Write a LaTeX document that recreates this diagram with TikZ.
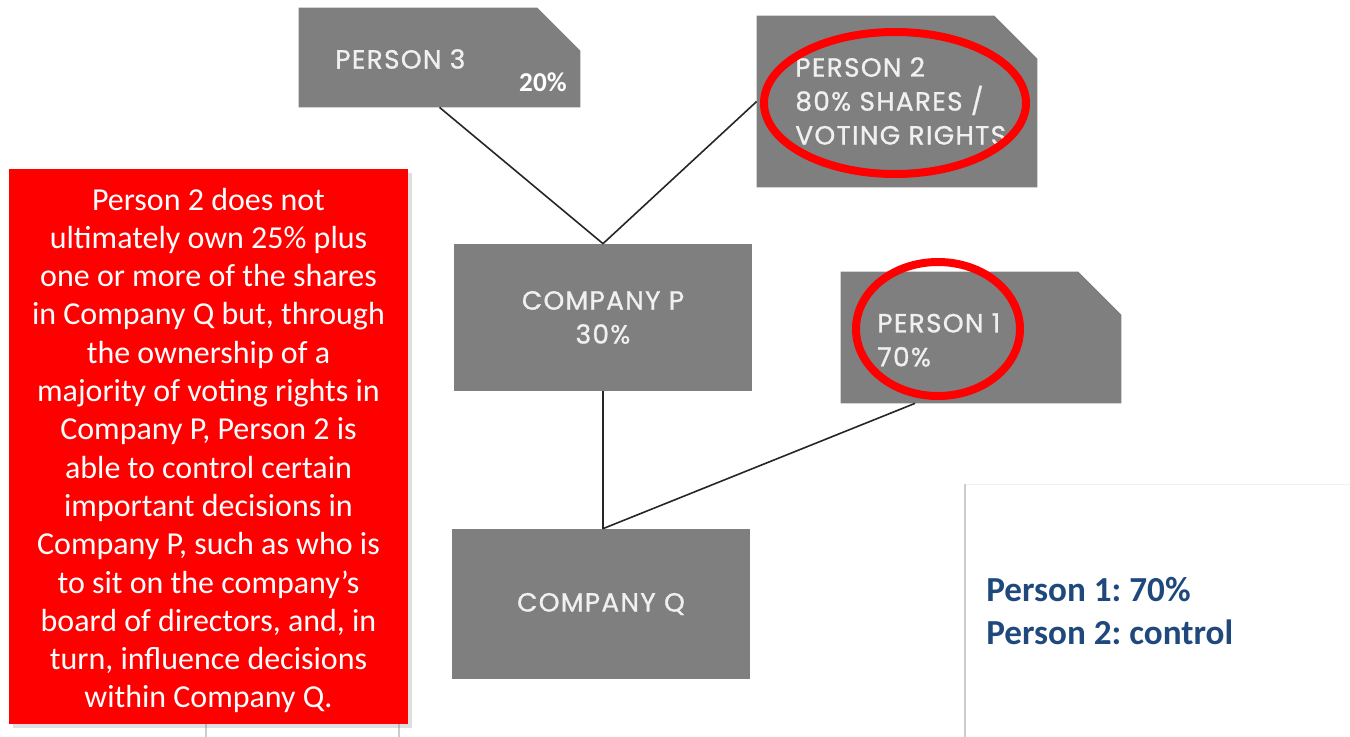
\documentclass[tikz,border=0pt]{standalone}
\usepackage{fontspec}
\setmainfont{Carlito}
\newfontfamily\capsfont[FakeBold=1,LetterSpace=5]{Poppins}
\usetikzlibrary{shapes.geometric,calc,shadows}

\definecolor{boxgray}{RGB}{127,127,127}
\definecolor{notered}{RGB}{255,0,0}
\definecolor{sumblue}{RGB}{31,73,125}
\def\px{0.02cm}

\begin{document}
\frenchspacing
\begin{tikzpicture}[x=\px,y=-\px]
    \tikzstyle{entity}=[rectangle,fill=boxgray,inner sep=0pt,text=white!94!black,
        font=\capsfont\fontsize{15}{19.3}\selectfont,align=center]
    \tikzstyle{person}=[rectangle,inner sep=0pt]
    \tikzstyle{caps}=[inner sep=0pt,anchor=west,text=white!94!black,align=left,
        font=\capsfont\fontsize{15}{19.3}\selectfont]
    \tikzstyle{ring}=[ellipse,draw=notered,line width=8*\px,inner sep=0pt]
    \tikzstyle{link}=[draw=black!85,line width=1.6*\px]

    \useasboundingbox (0,0) rectangle (1350,737);

    % faint edges of the panels behind
    \draw[black!20,line width=2*\px] (965,484) -- (965,737);
    \draw[black!6,line width=1*\px] (966,484) -- (1350,484);
    \foreach \x in {206,399}
        \draw[black!20,line width=2*\px] (\x,720) -- (\x,737);

    % Draw the owners and companies
    \node[person,minimum width=281*\px,minimum height=99*\px] (P3) at (439.5,57.5) {};
    \node[person,minimum width=280*\px,minimum height=171*\px] (P2) at (897,101.5) {};
    \node[person,minimum width=280*\px,minimum height=131*\px] (P1) at (981,337.5) {};
    % owner boxes have the top right corner cut off
    \foreach \name in {P3,P2,P1}
        \fill[boxgray] (\name.south west) -- (\name.north west) -- ($(\name.north east)+(-43,0)$)
            -- ($(\name.north east)+(0,43)$) -- (\name.south east) -- cycle;
    \node[entity,minimum width=298*\px,minimum height=147*\px] (CP) at (603,317.5) {COMPANY P\\30\%};
    \node[entity,minimum width=298*\px,minimum height=150*\px] (CQ) at (601,604) {COMPANY Q};

    % Labels of the owners
    \node[caps] (P3-name) at (335,59) {PERSON 3};
    \node[inner sep=0pt,anchor=east,text=white,font=\bfseries\fontsize{15.5}{18}\selectfont] (P3-share) at (567,82) {20\%};
    \node[caps] (P2-name) at (795,101) {PERSON 2\\80\% SHARES /\\VOTING RIGHTS};
    \node[caps] (P1-name) at (877,340) {PERSON 1\\70\%};

    % Connect the owners with what they hold
    \path[link] (P3.south) -- (CP.north);
    \path[link] (P2.west) -- (CP.north);
    \path[link] (CP.south) -- (CP.south |- CQ.north);
    \path[link] ($(P1.south west)!0.265!(P1.south east)$) -- (CP.south |- CQ.north);

    % Mark who counts
    \node[ring,minimum width=262*\px,minimum height=142*\px] (R2) at (895,103) {};
    \node[ring,minimum width=164*\px,minimum height=134*\px] (R1) at (938,329) {};

    % Explanation and result
    \node[fill=notered,inner sep=0pt,minimum width=399*\px,minimum height=555*\px,
        drop shadow={shadow xshift=2pt,shadow yshift=-2pt,opacity=0.25}] (note) at (208.5,446.5) {};
    \node[text=white,inner sep=0pt,align=center,font=\fontsize{18.2}{21.8}\selectfont] (note-text) at (208.5,450.5)
        {Person 2 does not\\ultimately own 25\% plus\\one or more of the shares\\in Company Q but, through\\
         the ownership of a\\majority of voting rights in\\Company P, Person 2 is\\able to control certain\\
         important decisions in\\Company P, such as who is\\to sit on the company’s\\board of directors, and, in\\
         turn, influence decisions\\within Company Q.};
    \node[anchor=west,inner sep=0pt,text=sumblue,align=left,font=\bfseries\fontsize{20}{24.4}\selectfont]
        (result) at (986,611) {Person 1: 70\%\\Person 2: control};
\end{tikzpicture}
\end{document}
